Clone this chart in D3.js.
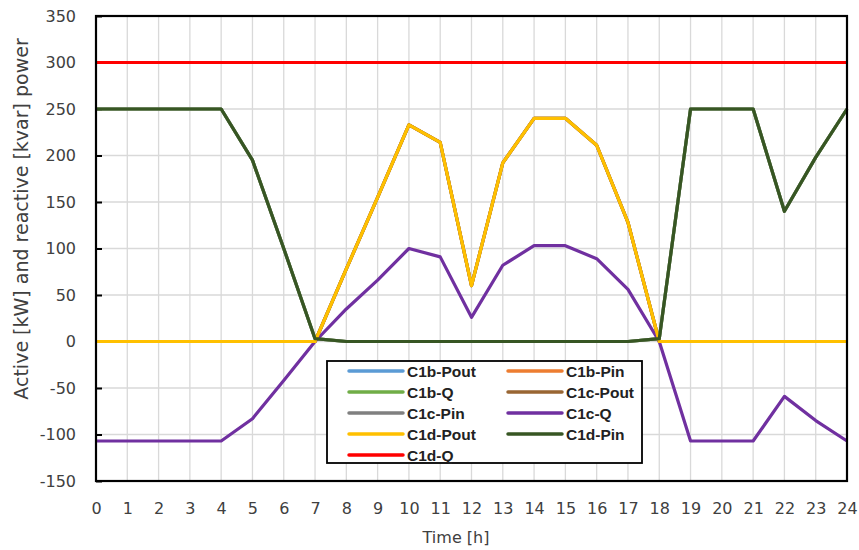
<!DOCTYPE html>
<html>
<head>
<meta charset="utf-8">
<script src="https://cdn.jsdelivr.net/npm/d3@7"></script>
<style>
body { margin:0; background:#fff; }
svg { display:block; }
</style>
</head>
<body>
<svg></svg>
<script>
var screen = {width:859,height:550}
var margins = {top:16,right:12,bottom:69,left:96}

// values, one per hour 0..24
var hours = [0,1,2,3,4,5,6,7,8,9,10,11,12,13,14,15,16,17,18,19,20,21,22,23,24]
var poutValues = [0,0,0,0,0,0,0,0,78,155,233,214,60,192,240,240,211,128,0,0,0,0,0,0,0]
var pinValues = [250,250,250,250,250,195,100,3,0,0,0,0,0,0,0,0,0,0,3,250,250,250,140,198,250]
var qValues = [-107,-107,-107,-107,-107,-83,-42,0,35,66,100,91,26,82,103,103,89,56,0,-107,-107,-107,-59,-85,-107]
var limitValues = [300,300,300,300,300,300,300,300,300,300,300,300,300,300,300,300,300,300,300,300,300,300,300,300,300]

var seriesNames = ["C1b-Pout","C1b-Pin","C1b-Q","C1c-Pout","C1c-Pin","C1c-Q","C1d-Pout","C1d-Pin","C1d-Q"]
var seriesData = [poutValues,poutValues,pinValues,poutValues,pinValues,qValues,poutValues,pinValues,limitValues]
var seriesColors = ["#5b9bd5","#ed7d31","#70ad47","#996633","#808080","#7030a0","#ffc000","#375623","#ff0000"]

var yTicks = [-150,-100,-50,0,50,100,150,200,250,300,350]

var width = screen.width - margins.left - margins.right;
var height = screen.height - margins.top - margins.bottom;

var svg = d3.select("svg")
 .attr("width",screen.width)
 .attr("height",screen.height)

var graph = svg.append("g")
 .attr("id","graph")
 .attr("transform","translate("+margins.left+","+margins.top+")");

var xScale = d3.scaleLinear()
               .domain([0,24])
               .range([0,width])

var yScale = d3.scaleLinear()
               .domain([-150,350])
               .range([height,0])

// grid
graph.append("g")
  .selectAll("line.vgrid")
  .data(hours)
  .enter()
  .append("line")
  .attr("x1",function(h){return xScale(h)})
  .attr("x2",function(h){return xScale(h)})
  .attr("y1",0)
  .attr("y2",height)
  .attr("stroke","#d9d9d9")
  .attr("stroke-width",1.3)

graph.append("g")
  .selectAll("line.hgrid")
  .data(yTicks)
  .enter()
  .append("line")
  .attr("x1",0)
  .attr("x2",width)
  .attr("y1",function(v){return yScale(v)})
  .attr("y2",function(v){return yScale(v)})
  .attr("stroke","#d9d9d9")
  .attr("stroke-width",1.3)

// axes (plain hyphen for negatives, like the original)
var plain = function(d){return String(d)}
var xAxis = d3.axisBottom(xScale).tickValues(hours).tickFormat(plain).tickSize(0).tickPadding(22)
var yAxis = d3.axisLeft(yScale).tickValues(yTicks).tickFormat(plain).tickSize(-6).tickPadding(20)

var xg = graph.append("g")
  .attr("transform","translate(0,"+height+")")
  .call(xAxis)
var yg = graph.append("g")
  .call(yAxis)

;[xg,yg].forEach(function(g){
  g.select(".domain").remove()
  g.selectAll("text")
   .attr("font-family","DejaVu Sans, sans-serif")
   .attr("font-size","16px")
   .attr("fill","#404040")
  g.selectAll("line").attr("stroke","#000").attr("stroke-width",2)
})

// lines
var line = d3.line()
  .x(function(d,i){return xScale(hours[i])})
  .y(function(d){return yScale(d)})

graph.append("g")
  .selectAll("path")
  .data(seriesData)
  .enter()
  .append("path")
  .attr("d",function(d){return line(d)})
  .attr("fill","none")
  .attr("stroke",function(d,i){return seriesColors[i]})
  .attr("stroke-width",3.2)
  .attr("stroke-linejoin","round")

// frame
graph.append("rect")
  .attr("x",0)
  .attr("y",0)
  .attr("width",width)
  .attr("height",height)
  .attr("fill","none")
  .attr("stroke","#000")
  .attr("stroke-width",2.2)

// axis titles
svg.append("text")
  .attr("transform","translate(28,219) rotate(-90)")
  .attr("text-anchor","middle")
  .attr("font-family","DejaVu Sans, sans-serif")
  .attr("font-size","19px")
  .attr("fill","#404040")
  .text("Active [kW] and reactive [kvar] power")

svg.append("text")
  .attr("x",456)
  .attr("y",543)
  .attr("text-anchor","middle")
  .attr("font-family","DejaVu Sans, sans-serif")
  .attr("font-size","16px")
  .attr("fill","#404040")
  .text("Time [h]")

// legend
var legend = svg.append("g").attr("transform","translate(327,361)")
legend.append("rect")
  .attr("width",315)
  .attr("height",102)
  .attr("fill","#fff")
  .attr("stroke","#000")
  .attr("stroke-width",1.8)

var items = legend.selectAll("g.item")
  .data(seriesNames)
  .enter()
  .append("g")
  .attr("transform",function(n,i){return "translate("+(22+(i%2)*159)+","+(10+Math.floor(i/2)*21)+")"})

items.append("line")
  .attr("x1",0)
  .attr("x2",54)
  .attr("stroke",function(n,i){return seriesColors[i]})
  .attr("stroke-width",3.5)
  .attr("stroke-linecap","round")

items.append("text")
  .attr("x",58)
  .attr("y",5.5)
  .attr("font-family","Liberation Sans Narrow, Liberation Sans, Arial, sans-serif")
  .attr("font-weight","bold")
  .attr("font-size","15.5px")
  .attr("fill","#222")
  .text(function(n){return n})
</script>
</body>
</html>
